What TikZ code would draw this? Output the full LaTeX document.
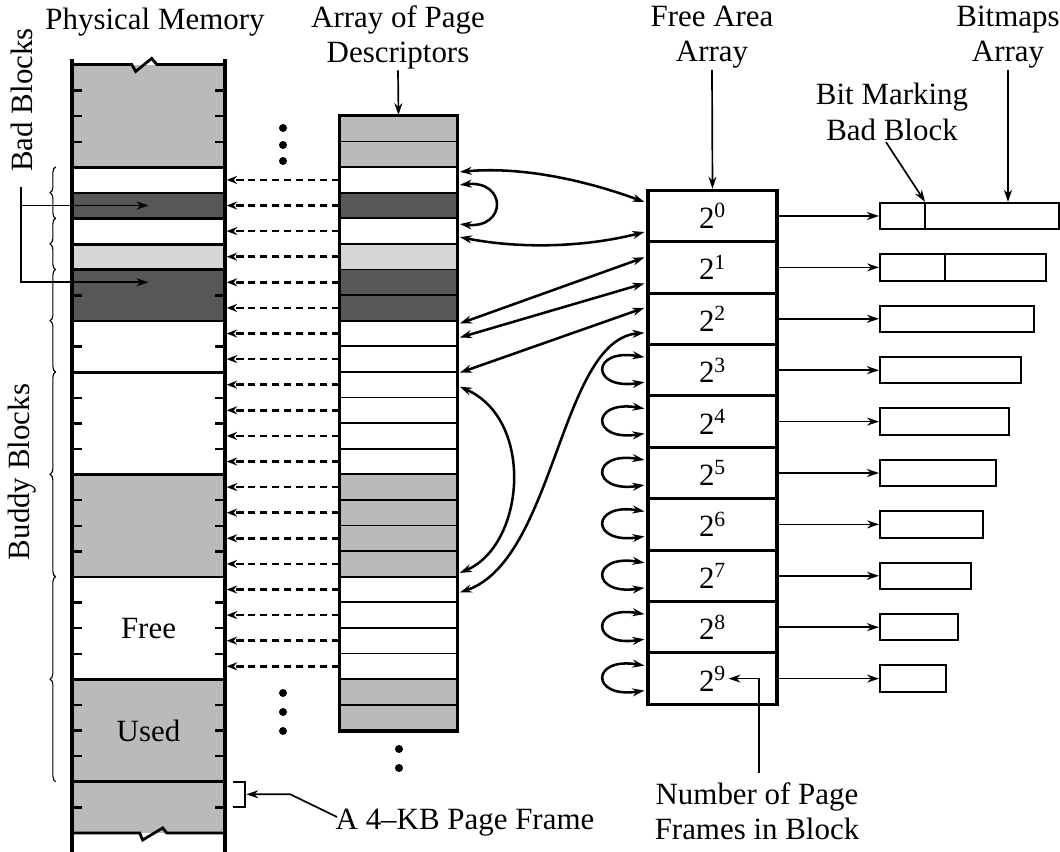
\documentclass[tikz,border=0pt]{standalone}
\usepackage{fontspec}
\setmainfont{Liberation Serif}
\usetikzlibrary{arrows.meta,positioning,calc,decorations.pathreplacing}
\colorlet{midg}{black!27}
\colorlet{lightg}{black!16}
\colorlet{darkg}{black!66}
\tikzset{
  memfrm/.style={rectangle, draw=none, inner sep=0pt,
    minimum width=3.825cm, minimum height=0.64cm},
  descbox/.style={rectangle, draw=black, line width=1.2pt, inner sep=0pt,
    minimum width=2.925cm, minimum height=0.64cm},
  areabox/.style={rectangle, draw=black, line width=2.2pt, inner sep=0pt,
    minimum width=3.225cm, minimum height=1.285cm, font=\fontsize{22}{25}\selectfont},
  bmapbox/.style={rectangle, draw=black, line width=1.4pt, inner sep=0pt,
    minimum height=0.66cm, anchor=west},
  lbl/.style={align=center, inner sep=1pt, font=\fontsize{22}{25}\selectfont},
  ptr/.style={-{Stealth[length=3mm,width=2mm]}, line width=1.2pt},
  link/.style={{Stealth[length=3mm,width=2mm]}-{Stealth[length=3mm,width=2mm]}, line width=1.8pt},
  backptr/.style={-{Stealth[length=2.6mm,width=2mm]}, line width=1.8pt,
    dash pattern=on 5pt off 3.5pt, shorten >=1pt},
  blockline/.style={line width=2pt},
  tickline/.style={line width=1.6pt},
  bracetick/.style={decorate, decoration={brace, amplitude=4pt}, line width=0.8pt},
}
\begin{document}
\begin{tikzpicture}[x=0.025cm, y=-0.025cm]
\useasboundingbox (0,0) rectangle (1060,852);
% physical memory
\foreach \j/\col in {0/midg,1/midg,2/midg,3/midg,4/white,5/darkg,6/white,7/lightg,
    8/darkg,9/darkg,10/white,11/white,12/white,13/white,14/white,15/white,
    16/midg,17/midg,18/midg,19/midg,20/white,21/white,22/white,23/white,
    24/midg,25/midg,26/midg,27/midg,28/midg,29/midg}
  \node[memfrm, fill=\col] (f\j) at (148.5, {77.5+25.6*\j}) {};
\foreach \j in {3,4,5,6,7,9,11,15,19,23,27}
  \draw[blockline] (f\j.south west) -- (f\j.south east);
\foreach \j in {0,1,2,8,10,12,13,14,16,17,18,20,21,22,24,25,26,28} {
  \draw[tickline] (f\j.south west) -- ++(10,0);
  \draw[tickline] (f\j.south east) -- ++(-10,0);
}
\draw[blockline] (f0.north west) -- ++(60,0) -- ++(4,7) -- ++(16,-13) -- ++(5,6) -- (f0.north east);
\draw[blockline] (f29.south west) -- ++(68,0) -- ++(3,7) -- ++(20,-12) -- ++(4,5) -- (f29.south east);
\draw[line width=2.6pt] ($(f0.north west)+(0,-5)$) -- ($(f29.south west)+(0,20)$);
\draw[line width=2.6pt] ($(f0.north east)+(0,-5)$) -- ($(f29.south east)+(0,20)$);
\node[lbl] (memlbl)  at (155,22) {Physical Memory};
\node[lbl] (freelbl) at (f21.south) {Free};
\node[lbl] (usedlbl) at (f25.south) {Used};
% bad and buddy blocks
\node[lbl, rotate=90] (badlbl)   at (22,100) {Bad Blocks};
\node[lbl, rotate=90] (buddylbl) at (22,472) {Buddy Blocks};
\coordinate (badtop) at (21,187);
\draw[ptr] (badtop) |- (f5.center);
\draw[ptr] (badtop) |- (f8.center);
\draw[bracetick] ([xshift=-0.4cm]f5.south west)  -- ([xshift=-0.4cm]f4.north west);
\draw[bracetick] ([xshift=-0.4cm]f7.south west)  -- ([xshift=-0.4cm]f6.north west);
\draw[bracetick] ([xshift=-0.4cm]f11.south west) -- ([xshift=-0.4cm]f8.north west);
\draw[bracetick] ([xshift=-0.4cm]f19.south west) -- ([xshift=-0.4cm]f12.north west);
\draw[bracetick] ([xshift=-0.4cm]f27.south west) -- ([xshift=-0.4cm]f20.north west);
% one page frame
\draw[line width=1.3pt] ($(f28.north east)+(8,1)$) -- ++(12,0) -- ($(f28.south east)+(20,0)$) -- ++(-12,0);
\node[lbl, anchor=west] (pglbl) at (334,823) {A 4--KB Page Frame};
\draw[ptr] ($(pglbl.west)+(3,-6)$) -- ($(f28.east)+(65,0)$) -- ($(f28.east)+(21,0)$);
% page descriptors
\foreach \j/\col in {2/midg,3/midg,4/white,5/darkg,6/white,7/lightg,8/darkg,9/darkg,
    10/white,11/white,12/white,13/white,14/white,15/white,16/midg,17/midg,18/midg,
    19/midg,20/white,21/white,22/white,23/white,24/midg,25/midg}
  \node[descbox, fill=\col] (d\j) at (398.5, {77.5+25.6*\j}) {};
\draw[line width=2.2pt] (d2.north west) rectangle (d25.south east);
\node[lbl] (desclbl) at (398,37) {Array of Page\\Descriptors};
\draw[ptr] (desclbl.south) -- (d2.north);
\foreach \j in {4,...,23}
  \draw[backptr] (d\j.west) -- (f\j.east);
% dots
\foreach \y in {128,145,161,693,712,731}
  \fill (283,\y) circle (0.1cm);
\foreach \y in {749,768}
  \fill (399,\y) circle (0.1cm);
% free area array
\foreach \k in {0,...,9}
  \node[areabox] (a\k) at (712.5, {216+51.4*\k}) {2\textsuperscript{\k}};
\node[lbl] (arealbl) at (712,37) {Free Area\\Array};
\draw[ptr] (arealbl.south) -- (a0.north);
\draw[link] ($(d4.east)+(2,-8)$) .. controls (525,166) and (590,182) .. ($(a0.west)+(-2,-14)$);
\draw[link] ($(d4.east)+(2,5)$) .. controls (507,180) and (507,229) .. ($(d6.east)+(2,-7)$);
\draw[link] ($(d6.east)+(2,6)$) .. controls (525,250) and (590,246) .. ($(a0.west)+(-2,16)$);
\draw[link] ($(a1.west)+(-2,-10)$) -- ($(d10.east)+(2,-10)$);
\draw[link] ($(a1.west)+(-2,16)$) -- ($(d10.east)+(2,4)$);
\draw[link] ($(a2.west)+(-2,-11)$) -- ($(d12.east)+(2,-12)$);
\draw[link] ($(d12.east)+(2,2)$) .. controls (535,420) and (525,545) .. ($(d19.east)+(2,9)$);
\draw[link] ($(a2.west)+(-2,14)$) .. controls (560,340) and (555,560) .. ($(d20.east)+(2,3)$);
\foreach \k in {3,...,9}
  \draw[link] ($(a\k.west)+(-2,-13)$) .. controls ($(a\k.west)+(-56,-22)$) and ($(a\k.west)+(-56,20)$) .. ($(a\k.west)+(-2,12)$);
\node[lbl] (numlbl) at (757,811) {Number of Page\\Frames in Block};
\draw[ptr] ($(numlbl.north)+(2,-8)$) |- ($(a9.center)+(16,0)$);
% bitmaps array
\foreach \k in {0,...,9} {
  \pgfmathsetmacro\bw{(179-12.6*\k)*0.025}
  \node[bmapbox, minimum width=\bw cm] (b\k) at (879, {216+51.4*\k}) {};
  \draw[ptr] (a\k.east) -- (b\k.west);
}
\coordinate (bad0) at ($(b0.north west)+(46,0)$);
\coordinate (bad1) at ($(b1.north west)+(66,0)$);
\draw[blockline] (bad0) -- (bad0 |- b0.south);
\draw[blockline] (bad1) -- (bad1 |- b1.south);
\node[lbl] (bmplbl) at (1008,37) {Bitmaps\\Array};
\draw[ptr] (bmplbl.south) -- (bmplbl.south |- b0.north);
\node[lbl] (bitlbl) at (892,112) {Bit Marking\\Bad Block};
\draw[ptr] ($(bitlbl.south)+(-6,0)$) -- (bad0);
\end{tikzpicture}
\end{document}
